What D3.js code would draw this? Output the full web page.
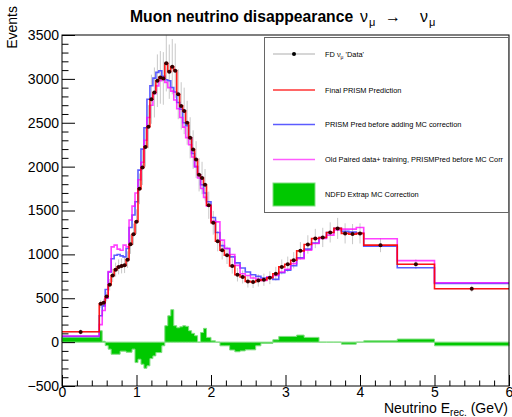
<!DOCTYPE html>
<html>
<head>
<meta charset="utf-8">
<script src="https://cdn.jsdelivr.net/npm/d3@7"></script>
<style>
  body { margin: 0; background: #fff; }
  svg text { font-family: "Liberation Sans", Arial, Helvetica, sans-serif; }
</style>
</head>
<body>
<div class="container"></div>
<script>
const WIDTH = 512;
const HEIGHT = 417;

// bin edges in GeV (variable binning)
var binEdges = [0, 0.5, 0.54, 0.58, 0.62, 0.66, 0.70, 0.74, 0.78, 0.82, 0.86, 0.90, 0.94, 0.98,
    1.02, 1.06, 1.10, 1.14, 1.18, 1.22, 1.26, 1.30, 1.34, 1.38, 1.42, 1.46, 1.50, 1.54, 1.58,
    1.62, 1.66, 1.70, 1.74, 1.78, 1.82, 1.86, 1.90, 1.94, 2.0, 2.06, 2.12, 2.18, 2.25, 2.32,
    2.39, 2.46, 2.53, 2.60, 2.67, 2.75, 2.83, 2.91, 2.99, 3.07, 3.15, 3.25, 3.35, 3.45, 3.55,
    3.65, 3.75, 3.85, 3.95, 4.05, 4.5, 5.0, 6.0];

var dataVals = [115,
    436, 450, 520, 654, 760, 826, 857, 868, 875, 940, 1116, 1230, 1373, 1747, 1990, 2225, 2455,
    2768, 2845, 2979, 3017, 3005, 3177, 3082, 3139, 3093, 2825, 2692, 2635, 2500, 2328, 2194,
    2080, 1907, 1870, 1793,
    1560, 1360, 1150, 1047,
    990, 868, 768, 742, 692, 685, 703,
    711, 734, 780, 857, 887, 933,
    1040, 1113, 1181, 1193, 1250, 1296, 1239, 1231, 1239,
    1105, 887, 608];

var dataErr = [30,
    45, 45, 55, 65, 75, 80, 85, 85, 88, 95, 110, 120, 140, 175, 200, 225, 245, 280, 285, 300,
    300, 300, 320, 310, 315, 310, 285, 270, 265, 250, 235, 220, 210, 190, 185, 180,
    155, 135, 115, 105,
    100, 87, 77, 74, 70, 68, 70,
    70, 73, 78, 85, 88, 93,
    100, 105, 110, 110, 115, 120, 115, 115, 115,
    80, 55, 35];

var finalPred = [118,
    436, 452, 520, 654, 760, 826, 857, 868, 875, 940, 1116, 1230, 1373, 1747, 1990, 2225, 2455,
    2768, 2845, 2979, 3017, 3005, 3177, 3082, 3139, 3093, 2825, 2692, 2635, 2500, 2328, 2194,
    2080, 1907, 1870, 1793,
    1560, 1360, 1150, 1047,
    990, 868, 768, 742, 692, 685, 703,
    711, 734, 780, 857, 887, 933,
    1040, 1113, 1181, 1193, 1250, 1296, 1239, 1231, 1239,
    1105, 887, 608];

var predNoCorr = [65,
    300, 413, 600, 800, 950, 990, 998, 983, 971, 1067, 1307, 1449, 1600, 1960, 2200, 2443, 2768,
    2921, 3009, 3074, 3093, 3030, 2990, 2979, 2902, 2850, 2730, 2653, 2500, 2466, 2328, 2150,
    2000, 1907, 1793, 1700,
    1600, 1420, 1250, 1100,
    1067, 971, 903, 845, 800, 768, 749,
    730, 740, 715, 790, 820, 870,
    960, 1060, 1130, 1193, 1250, 1296, 1262, 1254, 1239,
    1093, 848, 669];

var oldPaired = [70,
    200, 360, 500, 803, 1086, 1105, 1060, 1047, 1105, 1086, 1391, 1550, 1700, 1850, 2050, 2300,
    2560, 2700, 2830, 2920, 2980, 2997, 2960, 2900, 2860, 2760, 2660, 2560, 2450, 2330, 2250,
    2110, 2000, 1870, 1750, 1650,
    1550, 1380, 1370, 1162,
    1067, 998, 875, 780, 760, 731, 720,
    703, 742, 760, 800, 830, 895,
    952, 1047, 1124, 1181, 1219, 1277, 1288, 1288, 1307,
    1178, 929, 677];

var mcCorr = [55,
    130, 10, -40, -80, -138, -138, -138, -103, -103, -115, -115, -80, -233, -195, -252, -298,
    -270, -188, -157, -119, -119, -42, 187, 300, 370, 187, 164, 175, 187, 180, 130, 100, 73, 0,
    110, 157,
    54, 15, 0, -42,
    -42, -90, -110, -100, -88, -88, -42,
    -15, -15, 27, 65, 65, 65,
    80, 54, 54, 0, 0, 0, -23, -23, 0,
    15, 35, -42];

var xTicks = [0, 1, 2, 3, 4, 5, 6];
var yTicks = [-500, 0, 500, 1000, 1500, 2000, 2500, 3000, 3500];

var legendItems = [
    {"kind": "data", "label": ["FD ν", "μ", " 'Data'"]},
    {"kind": "line", "color": "#ff0000", "label": ["Final PRISM Prediction"]},
    {"kind": "line", "color": "#3333ff", "label": ["PRISM Pred before adding MC correction"]},
    {"kind": "line", "color": "#ff33ff", "label": ["Old Paired data+ training, PRISMPred before MC Corr"]},
    {"kind": "box", "color": "#00c800", "label": ["NDFD Extrap MC Correction"]}
];

var translate = function(x, y) {
    return `translate(${x},${y})`;
};

// turn a list of bin contents into step points
var stepPoints = function(values) {
    var pts = values.map((v, i) => [binEdges[i], v]);
    pts.push([binEdges[binEdges.length - 1], values[values.length - 1]]);
    return pts;
};

var svg = d3.select('.container').append('svg')
    .attr('width', WIDTH)
    .attr('height', HEIGHT);

let xScale = d3.scaleLinear().domain([0, 6]).range([62, 509]);
let yScale = d3.scaleLinear().domain([-500, 3500]).range([386, 35]);

// title
svg.append('text')
    .attr('x', 130).attr('y', 22)
    .style('font-size', '15.7px').style('font-weight', 'bold')
    .text('Muon neutrino disappearance');
var greek = svg.append('text').attr('y', 22).style('font-size', '16px');
greek.append('tspan').attr('x', 360).text('ν');
greek.append('tspan').attr('x', 369).attr('dy', 4).style('font-size', '11px').text('μ');
greek.append('tspan').attr('x', 385).attr('dy', -4).text('→');
greek.append('tspan').attr('x', 420).text('ν');
greek.append('tspan').attr('x', 429).attr('dy', 4).style('font-size', '11px').text('μ');

// MC correction (filled)
var area = d3.area()
    .x((d) => xScale(d[0]))
    .y0(yScale(0))
    .y1((d) => yScale(d[1]))
    .curve(d3.curveStepAfter);
svg.append('path')
    .attr('d', area(stepPoints(mcCorr)))
    .attr('fill', '#00c800')
    .attr('stroke', '#80dd80')
    .attr('stroke-width', 1);

// data error bars
var centers = dataVals.map((v, i) => (binEdges[i] + binEdges[i + 1]) / 2);
var errG = svg.append('g').attr('stroke', '#c8c8c8').attr('stroke-width', 1);
dataVals.forEach(function(v, i) {
    errG.append('line')
        .attr('x1', xScale(centers[i])).attr('x2', xScale(centers[i]))
        .attr('y1', yScale(v - dataErr[i])).attr('y2', yScale(v + dataErr[i]));
    errG.append('line')
        .attr('x1', xScale(binEdges[i])).attr('x2', xScale(binEdges[i + 1]))
        .attr('y1', yScale(v)).attr('y2', yScale(v));
});

var line = d3.line()
    .x((d) => xScale(d[0]))
    .y((d) => yScale(d[1]))
    .curve(d3.curveStepAfter);

var drawHist = function(values, color, opacity) {
    svg.append('path')
        .attr('d', line(stepPoints(values)))
        .attr('fill', 'none')
        .attr('stroke', color)
        .attr('stroke-opacity', opacity)
        .attr('stroke-width', 1.6);
};
drawHist(predNoCorr, '#3333ff', 0.8);
drawHist(oldPaired, '#ff00ff', 0.75);
drawHist(finalPred, '#ff0000', 0.9);

// data markers
svg.append('g').selectAll('circle').data(dataVals).enter()
    .append('circle')
    .attr('cx', (d, i) => xScale(centers[i]))
    .attr('cy', (d) => yScale(d))
    .attr('r', 2)
    .attr('fill', '#300');

// axes, ROOT style ticks inside the frame
var xAxis = d3.axisBottom(xScale).tickValues(xTicks).tickSize(-11).tickPadding(1)
    .tickFormat(d3.format('d'));
var xMinor = d3.axisBottom(xScale)
    .tickValues(d3.range(0, 6.01, 0.2).filter((d) => Math.abs(d - Math.round(d)) > 0.01))
    .tickSize(-5.5).tickFormat('');
var yAxis = d3.axisLeft(yScale).tickValues(yTicks).tickSize(-13).tickPadding(3)
    .tickFormat(d3.format('d'));
var yMinor = d3.axisLeft(yScale)
    .tickValues(d3.range(-500, 3501, 100).filter((d) => d % 500 !== 0))
    .tickSize(-6.5).tickFormat('');

svg.append('g').attr('transform', translate(0, 386)).call(xMinor);
svg.append('g').attr('transform', translate(0, 386)).call(xAxis);
svg.append('g').attr('transform', translate(62, 0)).call(yMinor);
svg.append('g').attr('transform', translate(62, 0)).call(yAxis);
svg.selectAll('.domain').remove();
svg.selectAll('.tick text').style('font-size', '14px').attr('fill', '#000');

// frame
svg.append('rect')
    .attr('x', 62).attr('y', 35)
    .attr('width', 447).attr('height', 351)
    .attr('fill', 'none').attr('stroke', '#000').attr('stroke-width', 1);

// axis titles
svg.append('text')
    .attr('transform', 'translate(17,6) rotate(-90)')
    .attr('text-anchor', 'end')
    .style('font-size', '14px')
    .text('Events');
var xTitle = svg.append('text')
    .attr('x', 508).attr('y', 413)
    .attr('text-anchor', 'end')
    .style('font-size', '14px');
xTitle.append('tspan').text('Neutrino E');
xTitle.append('tspan').attr('dy', 3).style('font-size', '10px').text('rec.');
xTitle.append('tspan').attr('dy', -3).text(' (GeV)');

// legend
var legend = svg.append('g');
legend.append('rect')
    .attr('x', 264.5).attr('y', 37.5)
    .attr('width', 244).attr('height', 175)
    .attr('fill', '#fff').attr('stroke', '#666').attr('stroke-width', 1);

var rowY = [54, 90, 124.5, 159.5, 194.5];
legendItems.forEach(function(item, i) {
    var y = rowY[i];
    if (item.kind === 'data') {
        legend.append('line').attr('x1', 273).attr('x2', 315).attr('y1', y).attr('y2', y)
            .attr('stroke', '#c8c8c8').attr('stroke-width', 1.5);
        legend.append('circle').attr('cx', 294).attr('cy', y).attr('r', 2).attr('fill', '#000');
    } else if (item.kind === 'line') {
        legend.append('line').attr('x1', 273).attr('x2', 315).attr('y1', y).attr('y2', y)
            .attr('stroke', item.color).attr('stroke-width', 1.6).attr('stroke-opacity', 0.8);
    } else {
        legend.append('rect').attr('x', 273).attr('y', y - 11.5).attr('width', 42).attr('height', 23)
            .attr('fill', item.color).attr('stroke', '#80dd80');
    }
    var t = legend.append('text').attr('x', 325).attr('y', y + 2.5).style('font-size', '7.4px');
    t.append('tspan').text(item.label[0]);
    if (item.label.length > 1) {
        t.append('tspan').attr('dy', 2).style('font-size', '5px').text(item.label[1]);
        t.append('tspan').attr('dy', -2).text(item.label[2]);
    }
});
</script>
</body>
</html>
